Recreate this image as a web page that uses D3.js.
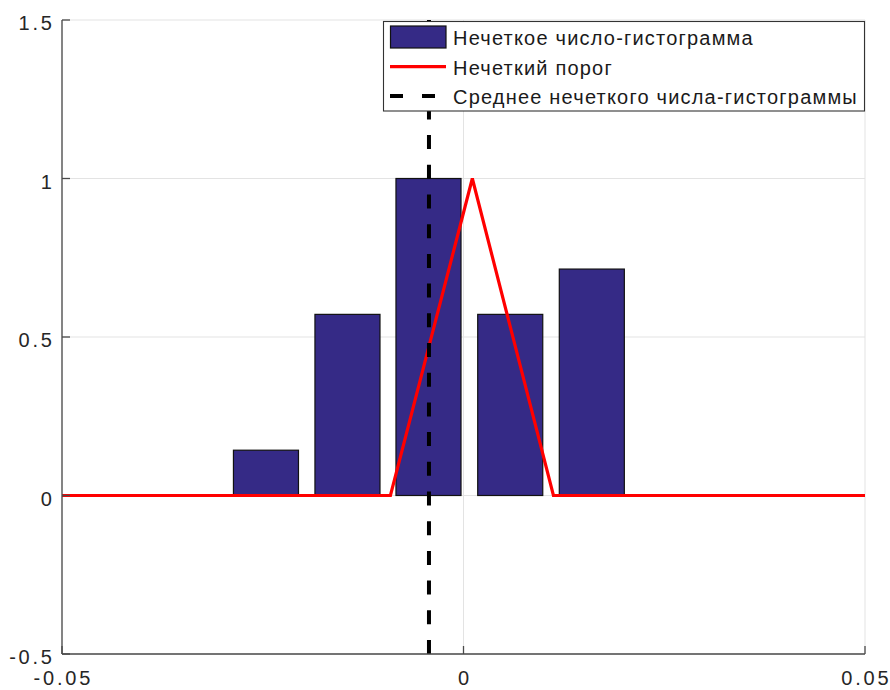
<!DOCTYPE html>
<html>
<head>
<meta charset="utf-8">
<script src="https://cdn.jsdelivr.net/npm/d3@7"></script>
<style>
  html, body { margin: 0; padding: 0; background: #fff; }
  svg { display: block; }
  text { font-family: "Liberation Sans", Arial, Helvetica, sans-serif; }
</style>
</head>
<body>
<svg id="chart" width="890" height="690"></svg>
<script>
// ---- data ----
const binCenters   = [-0.0246, -0.01445, -0.00436, 0.00582, 0.01598];
const memberships  = [0.1429, 0.5714, 1.0, 0.5714, 0.7143];
const binWidth     = 0.0081;
const thresholdX   = [-0.05, -0.0091, 0.0011, 0.0112, 0.05];
const thresholdY   = [0, 0, 1, 0, 0];
const meanValue    = -0.0043;
const xTicks       = [-0.05, 0, 0.05];
const xTickLabels  = ["-0.05", "0", "0.05"];
const yTicks       = [-0.5, 0, 0.5, 1, 1.5];
const yTickLabels  = ["-0.5", "0", "0.5", "1", "1.5"];
const legendLabels = ["Нечеткое число-гистограмма", "Нечеткий порог", "Среднее нечеткого числа-гистограммы"];

// ---- layout ----
const svg = d3.select("#chart");
const L = 62, R = 865, T = 20, B = 654;
const x = d3.scaleLinear().domain([-0.05, 0.05]).range([L, R]);
const y = d3.scaleLinear().domain([-0.5, 1.5]).range([B, T]);

const axisColor = "#4a4a4a";
const gridColor = "#e3e3e3";
const barColor = "#352a86";

// grid
const g = svg.append("g");
g.selectAll(".gy").data(yTicks).join("line")
  .attr("x1", L).attr("x2", R)
  .attr("y1", d => y(d)).attr("y2", d => y(d))
  .attr("stroke", gridColor).attr("stroke-width", 1);
g.selectAll(".gx").data(xTicks).join("line")
  .attr("x1", d => x(d)).attr("x2", d => x(d))
  .attr("y1", T).attr("y2", B)
  .attr("stroke", gridColor).attr("stroke-width", 1);

// bars
svg.append("g").selectAll("rect").data(binCenters).join("rect")
  .attr("x", (d) => x(d - binWidth / 2))
  .attr("width", (d) => x(d + binWidth / 2) - x(d - binWidth / 2))
  .attr("y", (d, i) => y(memberships[i]))
  .attr("height", (d, i) => y(0) - y(memberships[i]))
  .attr("fill", barColor)
  .attr("stroke", "#111")
  .attr("stroke-width", 1.2);

// threshold line
const thrData = thresholdX.map((v, i) => [v, thresholdY[i]]);
svg.append("path")
  .datum(thrData)
  .attr("d", d3.line().x(d => x(d[0])).y(d => y(d[1])))
  .attr("fill", "none")
  .attr("stroke", "#ff0000")
  .attr("stroke-width", 3.2)
  .attr("stroke-linejoin", "miter");

// mean dashed line
svg.append("line")
  .attr("x1", x(meanValue)).attr("x2", x(meanValue))
  .attr("y1", y(-0.5)).attr("y2", y(1.5))
  .attr("stroke", "#000")
  .attr("stroke-width", 4)
  .attr("stroke-dasharray", "14,15.7");

// axes lines
svg.append("line").attr("x1", L).attr("x2", L).attr("y1", T).attr("y2", B)
  .attr("stroke", axisColor).attr("stroke-width", 1.3);
svg.append("line").attr("x1", L).attr("x2", R).attr("y1", B).attr("y2", B)
  .attr("stroke", axisColor).attr("stroke-width", 1.3);

// ticks (inward)
svg.append("g").selectAll("line").data(yTicks).join("line")
  .attr("x1", L).attr("x2", L + 8)
  .attr("y1", d => y(d)).attr("y2", d => y(d))
  .attr("stroke", axisColor).attr("stroke-width", 1.3);
svg.append("g").selectAll("line").data(xTicks).join("line")
  .attr("x1", d => x(d)).attr("x2", d => x(d))
  .attr("y1", B).attr("y2", B - 8)
  .attr("stroke", axisColor).attr("stroke-width", 1.3);

// tick labels
const ls = 2.8;
svg.append("g").selectAll("text").data(yTicks).join("text")
  .attr("x", L - 10 + ls)
  .attr("y", d => y(d) + 10)
  .attr("text-anchor", "end")
  .attr("font-size", 20)
  .attr("letter-spacing", ls)
  .attr("fill", "#262626")
  .text((d, i) => yTickLabels[i]);
svg.append("g").selectAll("text").data(xTicks).join("text")
  .attr("x", d => x(d) + ls / 2)
  .attr("y", B + 31)
  .attr("text-anchor", "middle")
  .attr("font-size", 20)
  .attr("letter-spacing", ls)
  .attr("fill", "#262626")
  .text((d, i) => xTickLabels[i]);

// legend
const lg = svg.append("g");
lg.append("rect").attr("x", 383.5).attr("y", 21.5).attr("width", 481).attr("height", 89.5)
  .attr("fill", "#fff").attr("stroke", "#333").attr("stroke-width", 1.1);
const rowY = [37, 66.7, 96];
lg.append("rect").attr("x", 390.5).attr("y", rowY[0] - 11).attr("width", 55.5).attr("height", 22)
  .attr("fill", barColor).attr("stroke", "#111").attr("stroke-width", 1.2);
lg.append("line").attr("x1", 390).attr("x2", 446).attr("y1", rowY[1]).attr("y2", rowY[1])
  .attr("stroke", "#ff0000").attr("stroke-width", 3.2);
lg.append("line").attr("x1", 390).attr("x2", 446).attr("y1", rowY[2]).attr("y2", rowY[2])
  .attr("stroke", "#000").attr("stroke-width", 4).attr("stroke-dasharray", "13,19");
lg.selectAll("text.lab").data(legendLabels).join("text")
  .attr("x", 453)
  .attr("y", (d, i) => rowY[i] + 8)
  .attr("font-size", 20)
  .attr("letter-spacing", 1.2)
  .attr("fill", "#1a1a1a")
  .text(d => d);
</script>
</body>
</html>
